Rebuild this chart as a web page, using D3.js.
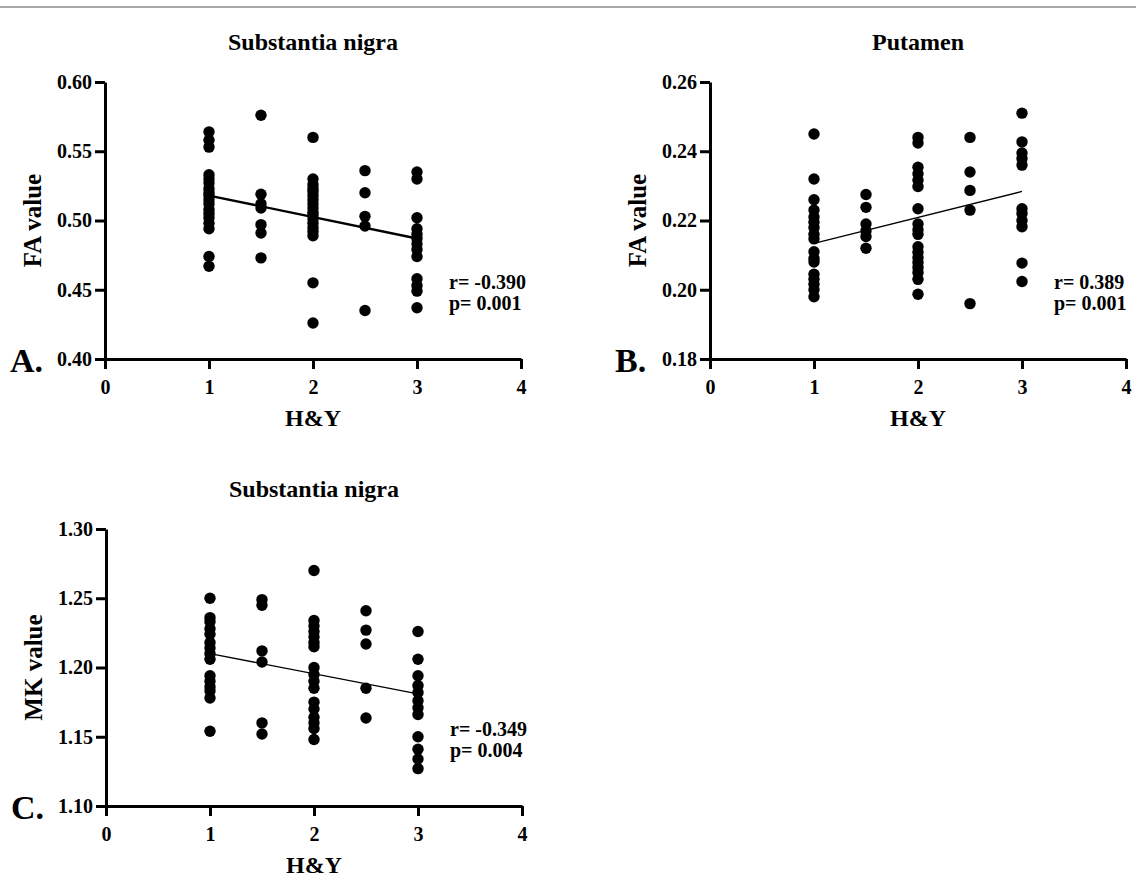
<!DOCTYPE html>
<html>
<head>
<meta charset="utf-8">
<script src="https://cdn.jsdelivr.net/npm/d3@7"></script>
<style>
  body { margin: 0; background: #fff; }
  svg { display: block; font-family: "Liberation Serif", "Times New Roman", serif; font-weight: bold; }
</style>
</head>
<body>
<div id="chart"></div>
<script>
// H&Y stages shared by all panels
const hyLevels = [1, 1.5, 2, 2.5, 3];
const hyTicks = [0, 1, 2, 3, 4];

// A. Substantia nigra FA, one list per H&Y stage
const faNigra = [
    [0.564, 0.558, 0.553, 0.533, 0.530, 0.527, 0.523, 0.520, 0.518, 0.515, 0.512, 0.508, 0.505, 0.502, 0.498, 0.494, 0.474, 0.467],
    [0.576, 0.519, 0.512, 0.509, 0.497, 0.491, 0.473],
    [0.560, 0.530, 0.526, 0.523, 0.521, 0.518, 0.515, 0.512, 0.509, 0.506, 0.504, 0.501, 0.498, 0.495, 0.492, 0.489, 0.455, 0.426],
    [0.536, 0.520, 0.503, 0.496, 0.435],
    [0.535, 0.530, 0.502, 0.494, 0.490, 0.487, 0.483, 0.479, 0.474, 0.458, 0.453, 0.449, 0.437]
];
const faNigraTicks = [0.40, 0.45, 0.50, 0.55, 0.60];
const faNigraFit = [0.518, 0.487]; // fitted value at H&Y 1 and 3

// B. Putamen FA
const faPutamen = [
    [0.245, 0.232, 0.226, 0.223, 0.221, 0.2195, 0.218, 0.216, 0.2147, 0.211, 0.209, 0.208, 0.2045, 0.203, 0.2016, 0.200, 0.198],
    [0.2275, 0.2238, 0.219, 0.217, 0.2154, 0.212],
    [0.244, 0.2424, 0.2354, 0.2335, 0.2316, 0.2298, 0.2234, 0.219, 0.2173, 0.216, 0.2124, 0.2108, 0.2093, 0.2079, 0.2064, 0.205, 0.203, 0.1987],
    [0.244, 0.234, 0.2287, 0.223, 0.196],
    [0.251, 0.2427, 0.2395, 0.2379, 0.236, 0.2234, 0.222, 0.220, 0.2182, 0.2077, 0.2024]
];
const faPutamenTicks = [0.18, 0.20, 0.22, 0.24, 0.26];
const faPutamenFit = [0.2134, 0.2284];

// C. Substantia nigra MK
const mkNigra = [
    [1.250, 1.236, 1.233, 1.228, 1.224, 1.218, 1.214, 1.210, 1.206, 1.194, 1.190, 1.186, 1.183, 1.178, 1.154],
    [1.249, 1.245, 1.212, 1.204, 1.160, 1.152],
    [1.270, 1.234, 1.230, 1.226, 1.222, 1.218, 1.215, 1.200, 1.195, 1.190, 1.185, 1.175, 1.170, 1.164, 1.160, 1.156, 1.148],
    [1.241, 1.227, 1.217, 1.185, 1.1635],
    [1.226, 1.206, 1.194, 1.187, 1.182, 1.176, 1.171, 1.166, 1.150, 1.141, 1.134, 1.127]
];
const mkNigraTicks = [1.10, 1.15, 1.20, 1.25, 1.30];
const mkNigraFit = [1.210, 1.181];

const panels = [
    { letter: "A.", title: "Substantia nigra", yLabel: "FA value", values: faNigra, ticks: faNigraTicks,
      fit: faNigraFit, r: "r= -0.390", p: "p= 0.001", left: 105, top: 82, fitWidth: 2.4 },
    { letter: "B.", title: "Putamen", yLabel: "FA value", values: faPutamen, ticks: faPutamenTicks,
      fit: faPutamenFit, r: "r= 0.389", p: "p= 0.001", left: 710, top: 82, fitWidth: 1.4 },
    { letter: "C.", title: "Substantia nigra", yLabel: "MK value", values: mkNigra, ticks: mkNigraTicks,
      fit: mkNigraFit, r: "r= -0.349", p: "p= 0.004", left: 106, top: 529, fitWidth: 1.4 }
];

const width = 416;
const height = 277;

const svg = d3.select("#chart")
    .append("svg")
    .attr("width", 1136)
    .attr("height", 877);

// grey rule along the top edge
svg.append("line")
    .attr("x1", 0).attr("x2", 1136)
    .attr("y1", 7).attr("y2", 7)
    .attr("stroke", "#8a8a8a")
    .attr("stroke-width", 1.5);

function drawPanel(cfg) {
    const g = svg.append("g")
        .attr("transform", `translate(${cfg.left},${cfg.top})`);

    const x = d3.scaleLinear().domain([0, 4]).range([0, width]);
    const y = d3.scaleLinear().domain(d3.extent(cfg.ticks)).range([height, 0]);

    // axes
    const yAxis = g.append("g")
        .call(d3.axisLeft(y).tickValues(cfg.ticks).tickFormat(d3.format(".2f"))
            .tickSize(10).tickSizeOuter(0).tickPadding(3));
    const xAxis = g.append("g")
        .attr("transform", `translate(0,${height})`)
        .call(d3.axisBottom(x).tickValues(hyTicks).tickFormat(d3.format("d"))
            .tickSize(10).tickSizeOuter(0).tickPadding(11));

    [yAxis, xAxis].forEach(a => {
        a.select(".domain").attr("stroke", "#000").attr("stroke-width", 3);
        a.selectAll(".tick line").attr("stroke", "#000").attr("stroke-width", 3);
        a.selectAll(".tick text")
            .attr("fill", "#000")
            .style("font-size", "20px")
            .style("font-family", "Liberation Serif")
            .style("font-weight", "bold");
    });

    // points
    const points = cfg.values.flatMap((vals, i) => vals.map(v => ({ hy: hyLevels[i], v: v })));
    g.selectAll("circle")
        .data(points)
        .join("circle")
        .attr("cx", d => x(d.hy))
        .attr("cy", d => y(d.v))
        .attr("r", 5.7)
        .attr("fill", "#000");

    // regression line
    g.append("line")
        .attr("x1", x(1)).attr("y1", y(cfg.fit[0]))
        .attr("x2", x(3)).attr("y2", y(cfg.fit[1]))
        .attr("stroke", "#000")
        .attr("stroke-width", cfg.fitWidth);

    // title
    g.append("text")
        .attr("x", width / 2)
        .attr("y", -32)
        .attr("text-anchor", "middle")
        .style("font-size", "24px")
        .text(cfg.title);

    // axis titles
    g.append("text")
        .attr("transform", `translate(-64,${height / 2}) rotate(-90)`)
        .attr("text-anchor", "middle")
        .style("font-size", "25px")
        .text(cfg.yLabel);

    g.append("text")
        .attr("x", width / 2)
        .attr("y", height + 67)
        .attr("text-anchor", "middle")
        .style("font-size", "24px")
        .text("H&Y");

    // statistics
    g.append("text")
        .attr("x", 344)
        .attr("y", 207)
        .style("font-size", "20px")
        .text(cfg.r);
    g.append("text")
        .attr("x", 344)
        .attr("y", 228)
        .style("font-size", "20px")
        .text(cfg.p);

    // panel letter
    g.append("text")
        .attr("x", -95)
        .attr("y", height + 13)
        .style("font-size", "34px")
        .text(cfg.letter);
}

panels.forEach(drawPanel);
</script>
</body>
</html>
